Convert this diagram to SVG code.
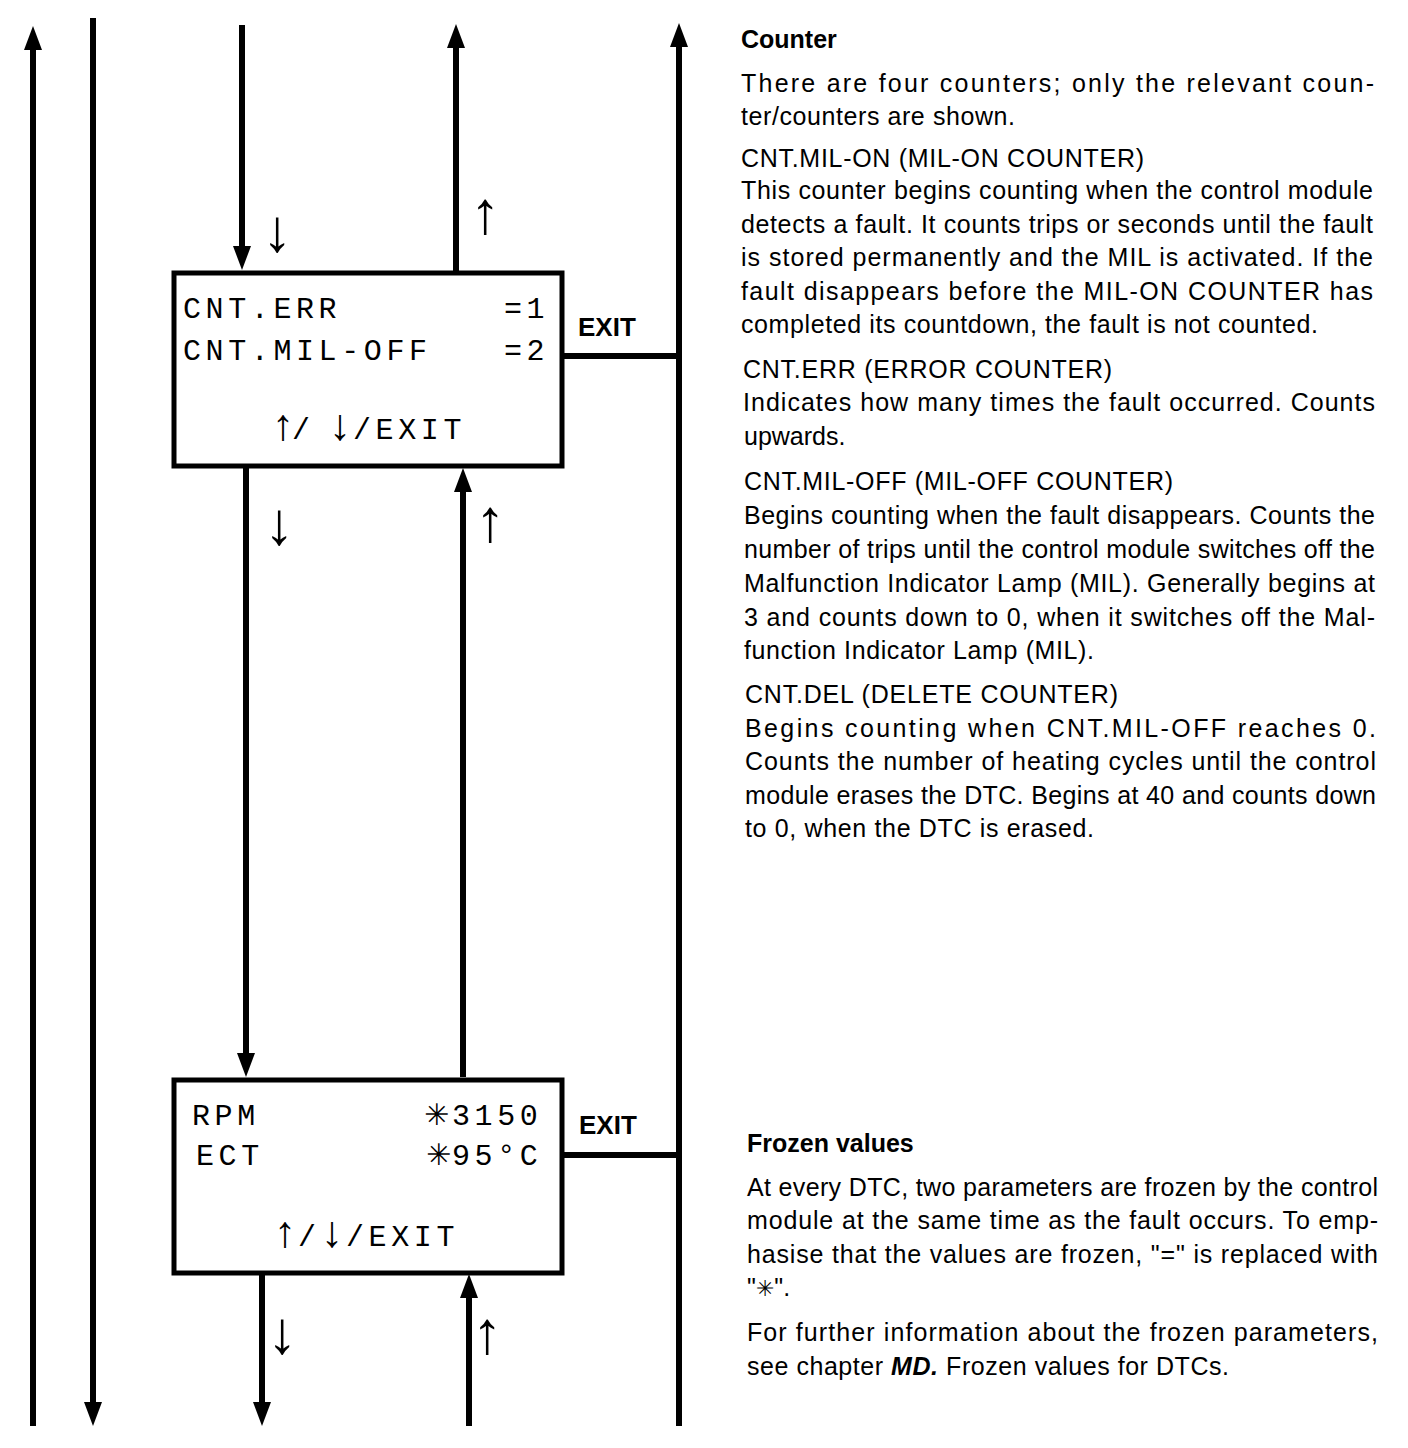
<svg xmlns="http://www.w3.org/2000/svg" width="1408" height="1448" viewBox="0 0 1408 1448">
<style>
.ln{stroke:#000;stroke-width:6;fill:none}
.box{fill:#fff;stroke:#000;stroke-width:5}
.mono{font-family:"Liberation Mono","DejaVu Sans Mono",monospace;font-size:30px;letter-spacing:4.6px;fill:#000}
.sym{font-family:"DejaVu Sans","Liberation Sans",sans-serif;font-size:30px;fill:#000}
.barr{font-family:"Liberation Sans","DejaVu Sans",sans-serif;font-size:44px;fill:#000;text-anchor:middle}
.exit{font-family:"Liberation Sans",Arial,sans-serif;font-size:26px;font-weight:bold;fill:#000}
.sm{font-family:"Liberation Sans","DejaVu Sans",sans-serif;font-size:60px;fill:#000;text-anchor:middle}
.tx{font-family:"Liberation Sans",Arial,sans-serif;font-size:25px;fill:#000}
.hd{font-family:"Liberation Sans",Arial,sans-serif;font-size:25px;font-weight:bold;fill:#000}
</style>
<defs>
<marker id="ah" markerUnits="userSpaceOnUse" viewBox="0 0 24 18" refX="10" refY="9" markerWidth="24" markerHeight="18" orient="auto">
<path d="M0,0 L24,9 L0,18 z" fill="#000"/>
</marker>
</defs>
<g id="connectors">
<line class="ln" x1="33" y1="1426" x2="33" y2="40" marker-end="url(#ah)"/>
<line class="ln" x1="93" y1="18" x2="93" y2="1412" marker-end="url(#ah)"/>
<line class="ln" x1="242" y1="25" x2="242" y2="256" marker-end="url(#ah)"/>
<line class="ln" x1="456" y1="272" x2="456" y2="38" marker-end="url(#ah)"/>
<line class="ln" x1="679" y1="1426" x2="679" y2="37" marker-end="url(#ah)"/>
<line class="ln" x1="563" y1="356" x2="679" y2="356"/>
<line class="ln" x1="246" y1="468" x2="246" y2="1063" marker-end="url(#ah)"/>
<line class="ln" x1="463" y1="1077" x2="463" y2="482" marker-end="url(#ah)"/>
<line class="ln" x1="563" y1="1155" x2="679" y2="1155"/>
<line class="ln" x1="262" y1="1274" x2="262" y2="1412" marker-end="url(#ah)"/>
<line class="ln" x1="469" y1="1426" x2="469" y2="1288" marker-end="url(#ah)"/>
<text class="sm" x="277" y="251">↓</text>
<text class="sm" x="485" y="233">↑</text>
<text class="sm" x="279" y="544">↓</text>
<text class="sm" x="490" y="541">↑</text>
<text class="sm" x="282" y="1353">↓</text>
<text class="sm" x="487" y="1353">↑</text>
<text class="exit" x="578" y="336">EXIT</text>
<text class="exit" x="579" y="1134">EXIT</text>
</g>
<g id="node-counter">
<rect class="box" x="174" y="273" width="388" height="193"/>
<text class="mono" x="183" y="318">CNT.ERR</text>
<text class="mono" x="504" y="318">=1</text>
<text class="mono" x="183" y="360">CNT.MIL-OFF</text>
<text class="mono" x="504" y="360">=2</text>
<text class="barr" x="283" y="440">↑</text>
<text class="mono" x="292" y="439">/</text>
<text class="barr" x="340" y="440">↓</text>
<text class="mono" x="353" y="439">/EXIT</text>
</g>
<g id="node-frozen">
<rect class="box" x="174" y="1080" width="388" height="193"/>
<text class="mono" x="192" y="1125">RPM</text>
<text class="mono" x="196" y="1165">ECT</text>
<text class="sym" x="424" y="1125">✳</text>
<text class="mono" x="452" y="1125">3150</text>
<text class="sym" x="426" y="1165">✳</text>
<text class="mono" x="452" y="1165">95°C</text>
<text class="barr" x="285" y="1247">↑</text>
<text class="mono" x="298" y="1246">/</text>
<text class="barr" x="332" y="1247">↓</text>
<text class="mono" x="346" y="1246">/EXIT</text>
</g>
<g id="text-counter">
<text class="hd" x="741" y="48">Counter</text>
<text class="tx" x="741" y="92" textLength="633" lengthAdjust="spacing">There are four counters; only the relevant coun-</text>
<text class="tx" x="741" y="125" textLength="274" lengthAdjust="spacing">ter/counters are shown.</text>
<text class="tx" x="741" y="167" textLength="403" lengthAdjust="spacing">CNT.MIL-ON (MIL-ON COUNTER)</text>
<text class="tx" x="741" y="199" textLength="632" lengthAdjust="spacing">This counter begins counting when the control module</text>
<text class="tx" x="741" y="233" textLength="632" lengthAdjust="spacing">detects a fault. It counts trips or seconds until the fault</text>
<text class="tx" x="741" y="266" textLength="632" lengthAdjust="spacing">is stored permanently and the MIL is activated. If the</text>
<text class="tx" x="741" y="300" textLength="632" lengthAdjust="spacing">fault disappears before the MIL-ON COUNTER has</text>
<text class="tx" x="741" y="333" textLength="577" lengthAdjust="spacing">completed its countdown, the fault is not counted.</text>
<text class="tx" x="743" y="378" textLength="369" lengthAdjust="spacing">CNT.ERR (ERROR COUNTER)</text>
<text class="tx" x="743" y="411" textLength="632" lengthAdjust="spacing">Indicates how many times the fault occurred. Counts</text>
<text class="tx" x="744" y="445">upwards.</text>
<text class="tx" x="744" y="490" textLength="429" lengthAdjust="spacing">CNT.MIL-OFF (MIL-OFF COUNTER)</text>
<text class="tx" x="744" y="524" textLength="631" lengthAdjust="spacing">Begins counting when the fault disappears. Counts the</text>
<text class="tx" x="744" y="558" textLength="631" lengthAdjust="spacing">number of trips until the control module switches off the</text>
<text class="tx" x="744" y="592" textLength="631" lengthAdjust="spacing">Malfunction Indicator Lamp (MIL). Generally begins at</text>
<text class="tx" x="744" y="626" textLength="631" lengthAdjust="spacing">3 and counts down to 0, when it switches off the Mal-</text>
<text class="tx" x="744" y="659" textLength="350" lengthAdjust="spacing">function Indicator Lamp (MIL).</text>
<text class="tx" x="745" y="703" textLength="373" lengthAdjust="spacing">CNT.DEL (DELETE COUNTER)</text>
<text class="tx" x="745" y="737" textLength="631" lengthAdjust="spacing">Begins counting when CNT.MIL-OFF reaches 0.</text>
<text class="tx" x="745" y="770" textLength="631" lengthAdjust="spacing">Counts the number of heating cycles until the control</text>
<text class="tx" x="745" y="804" textLength="631" lengthAdjust="spacing">module erases the DTC. Begins at 40 and counts down</text>
<text class="tx" x="745" y="837" textLength="349" lengthAdjust="spacing">to 0, when the DTC is erased.</text>
</g>
<g id="text-frozen">
<text class="hd" x="747" y="1152">Frozen values</text>
<text class="tx" x="747" y="1196" textLength="631" lengthAdjust="spacing">At every DTC, two parameters are frozen by the control</text>
<text class="tx" x="747" y="1229" textLength="631" lengthAdjust="spacing">module at the same time as the fault occurs. To emp-</text>
<text class="tx" x="747" y="1263" textLength="631" lengthAdjust="spacing">hasise that the values are frozen, "=" is replaced with</text>
<text class="tx" x="747" y="1296">"<tspan font-family="DejaVu Sans,sans-serif" font-size="22">✳</tspan>".</text>
<text class="tx" x="747" y="1341" textLength="631" lengthAdjust="spacing">For further information about the frozen parameters,</text>
<text class="tx" x="747" y="1375" textLength="482" lengthAdjust="spacing">see chapter <tspan font-weight="bold" font-style="italic">MD.</tspan> Frozen values for DTCs.</text>
</g>
</svg>
